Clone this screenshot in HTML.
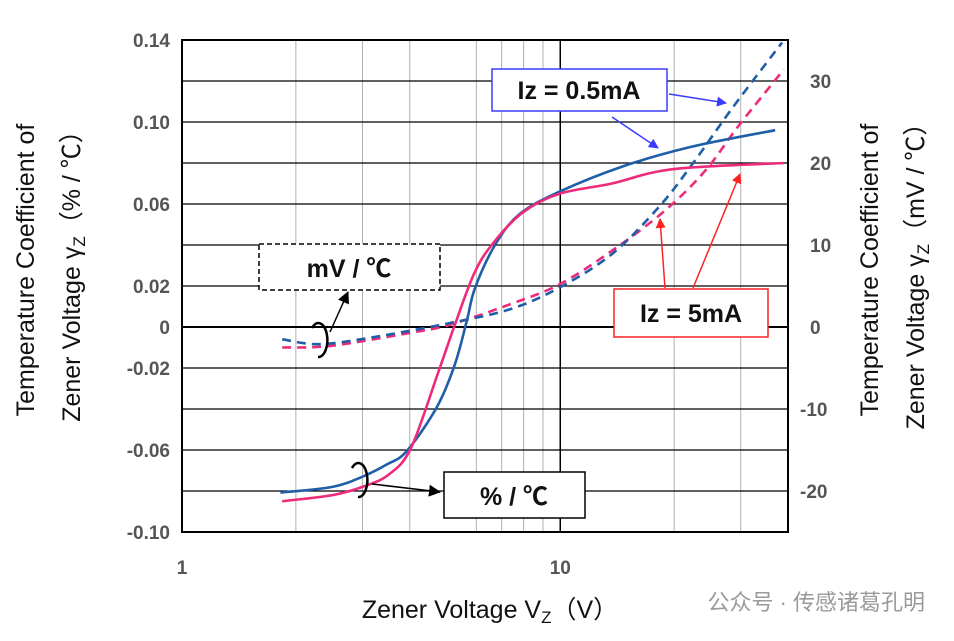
<!DOCTYPE html>
<html><head><meta charset="utf-8">
<style>
body{margin:0;background:#fff;}
svg{display:block;font-family:"Liberation Sans","Noto Sans CJK SC",sans-serif;}
.tk{font-size:19px;font-weight:bold;fill:#555;}
.ttl{font-size:25px;fill:#111;}
.box{font-size:25px;font-weight:bold;fill:#111;}
</style></head>
<body>
<svg id="chart" width="954" height="641" viewBox="0 0 954 641">
<g id="grid"></g>
<g id="series"></g>
<g id="axes"></g>

<g>
  <rect x="492" y="69" width="175" height="42" fill="#fff" stroke="#3b3bff" stroke-width="1.5"/>
  <text x="579" y="99" text-anchor="middle" class="box">Iz = 0.5mA</text>
  <rect x="614" y="289" width="154" height="48" fill="#fff" stroke="#ff2020" stroke-width="1.5"/>
  <text x="691" y="322" text-anchor="middle" class="box">Iz = 5mA</text>
  <rect x="259" y="244" width="181" height="46" fill="#fff" stroke="#000" stroke-width="1.5" stroke-dasharray="5,3"/>
  <text x="349" y="277" text-anchor="middle" class="box">mV / ℃</text>
  <rect x="444" y="472" width="141" height="46" fill="#fff" stroke="#000" stroke-width="1.5"/>
  <text x="514" y="505" text-anchor="middle" class="box">% / ℃</text>
  <defs>
    <marker id="ab" markerWidth="10" markerHeight="10" refX="9" refY="5" orient="auto" markerUnits="userSpaceOnUse"><path d="M0,0 L10,5 L0,10z" fill="#3b3bff"/></marker>
    <marker id="ar" markerWidth="10" markerHeight="10" refX="9" refY="5" orient="auto" markerUnits="userSpaceOnUse"><path d="M0,0 L10,5 L0,10z" fill="#ff2020"/></marker>
    <marker id="ak" markerWidth="12" markerHeight="12" refX="11" refY="6" orient="auto" markerUnits="userSpaceOnUse"><path d="M0,0 L12,6 L0,12z" fill="#000"/></marker>
  </defs>
  <line x1="669" y1="94" x2="726" y2="103" stroke="#3b3bff" stroke-width="1.5" marker-end="url(#ab)"/>
  <line x1="612" y1="117" x2="658" y2="148" stroke="#3b3bff" stroke-width="1.5" marker-end="url(#ab)"/>
  <line x1="665" y1="288" x2="660" y2="219" stroke="#ff2020" stroke-width="1.5" marker-end="url(#ar)"/>
  <line x1="693" y1="288" x2="740" y2="174" stroke="#ff2020" stroke-width="1.5" marker-end="url(#ar)"/>
  <path d="M312,328 A9,17 0 1 1 318,357" fill="none" stroke="#000" stroke-width="2.5"/>
  <line x1="330" y1="332" x2="348" y2="292" stroke="#000" stroke-width="1.5" marker-end="url(#ak)"/>
  <path d="M352,468 A9,17 0 1 1 358,497" fill="none" stroke="#000" stroke-width="2.5"/>
  <line x1="372" y1="484" x2="440" y2="492" stroke="#000" stroke-width="1.5" marker-end="url(#ak)"/>
</g>

<text transform="translate(34,270) rotate(-90)" text-anchor="middle" class="ttl">Temperature Coefficient of</text>
<text transform="translate(80,270) rotate(-90)" text-anchor="middle" class="ttl">Zener Voltage γ<tspan font-size="17" dy="5">Z</tspan><tspan dy="-5">（% / ℃）</tspan></text>
<text transform="translate(878,270) rotate(-90)" text-anchor="middle" class="ttl">Temperature Coefficient of</text>
<text transform="translate(924,270) rotate(-90)" text-anchor="middle" class="ttl">Zener Voltage γ<tspan font-size="17" dy="5">Z</tspan><tspan dy="-5">（mV / ℃）</tspan></text>
<text x="490" y="618" text-anchor="middle" class="ttl">Zener Voltage V<tspan font-size="17" dy="5">Z</tspan><tspan dy="-5">（V）</tspan></text>
<text x="925" y="610" text-anchor="end" font-size="22" fill="#9a9a9a">公众号 · 传感诸葛孔明</text>
</svg>
<script>
const xTicks=[1,10];
const xGridMinor=[2,3,4,6,7,8,9,20,30];
const yLeftTicks=[0.14,0.10,0.06,0.02,0,-0.02,-0.06,-0.10];
const yGridLines=[0.14,0.12,0.10,0.08,0.06,0.04,0.02,0,-0.02,-0.04,-0.06,-0.08,-0.10];
const yRightTicks=[30,20,10,0,-10,-20];
const pctV_05=[1.82,2.5,3.0,3.48,3.93,4.72,5.27,5.66,5.95,6.72,7.8,9.95,14.7,22.3,37];
const pct_05=[-0.0808,-0.078,-0.073,-0.067,-0.0605,-0.039,-0.018,0.003,0.019,0.040,0.055,0.066,0.0785,0.088,0.096];
const pctV_5=[1.84,2.5,3.0,3.52,4.03,4.77,5.27,5.95,6.72,7.98,9.95,13.7,19.8,39];
const pct_5=[-0.085,-0.082,-0.078,-0.072,-0.059,-0.0215,0.0013,0.027,0.042,0.056,0.065,0.070,0.077,0.080];
const mvV_05=[1.84,2.3,3.15,5.13,7.4,9.95,13.7,18.2,22.3,28.5,38.6];
const mv_05=[-1.5,-2.1,-1.3,0.5,2.2,4.8,8.9,14.6,19.8,26.7,34.7];
const mvV_5=[1.84,2.47,4.03,5.13,7.4,9.95,13.7,18.8,24.1,29.8,39];
const mv_5=[-2.5,-2.3,-0.7,0.3,2.8,5.2,9.3,14.1,19.0,24.7,31.4];

const L=182,R=788,T=40,B=532,XMAX=40;
const NS='http://www.w3.org/2000/svg';
function X(v){return L+(R-L)*Math.log10(v)/Math.log10(XMAX);}
function Y(p){return T+(0.14-p)/0.24*(B-T);}
function YR(m){return Y(m*0.004);}
function mk(tag,attrs,parent){const e=document.createElementNS(NS,tag);for(const k in attrs)e.setAttribute(k,attrs[k]);parent.appendChild(e);return e;}
const grid=document.getElementById('grid'),axes=document.getElementById('axes'),ser=document.getElementById('series');
xGridMinor.forEach(v=>{const e=mk('line',{x1:X(v),x2:X(v),y1:T,y2:B,stroke:'#b0b0b0','stroke-width':1},grid);

});
const e10=mk('line',{x1:X(10),x2:X(10),y1:T,y2:B,stroke:'#000','stroke-width':1.5},grid);


yGridLines.forEach(p=>{const e=mk('line',{x1:L,x2:R,y1:Y(p),y2:Y(p),stroke:'#000','stroke-width':p===0?2:1.3},grid);

});
const fr=mk('rect',{x:L,y:T,width:R-L,height:B-T,fill:'none',stroke:'#000','stroke-width':2},axes);


yLeftTicks.forEach(p=>{const t=mk('text',{x:170,y:Y(p)+7,'text-anchor':'end',class:'tk'},axes);t.textContent=p===0?'0':p.toFixed(2);

});
yRightTicks.forEach(m=>{const t=mk('text',{x:m<0?800:810,y:YR(m)+7,'text-anchor':'start',class:'tk'},axes);t.textContent=String(m);

});
xTicks.forEach(v=>{const t=mk('text',{x:X(v),y:574,'text-anchor':'middle',class:'tk'},axes);t.textContent=String(v);

});
function line(xs,ys,fy,color,dash,name){
  const P=xs.map((v,i)=>[X(v),fy(ys[i])]);
  let d='M'+P[0][0].toFixed(1)+','+P[0][1].toFixed(1);
  for(let i=0;i<P.length-1;i++){
    const p0=P[Math.max(0,i-1)],p1=P[i],p2=P[i+1],p3=P[Math.min(P.length-1,i+2)];
    const c1=[p1[0]+(p2[0]-p0[0])/6,p1[1]+(p2[1]-p0[1])/6];
    const c2=[p2[0]-(p3[0]-p1[0])/6,p2[1]-(p3[1]-p1[1])/6];
    d+=' C'+c1[0].toFixed(1)+','+c1[1].toFixed(1)+' '+c2[0].toFixed(1)+','+c2[1].toFixed(1)+' '+p2[0].toFixed(1)+','+p2[1].toFixed(1);
  }
  const p=mk('path',{d:d,fill:'none',stroke:color,'stroke-width':2.6,'stroke-linejoin':'round'},ser);
  if(dash)p.setAttribute('stroke-dasharray','9,6');
  
  
}
line(mvV_5,mv_5,YR,'#ee2a7b',true,'series-5ma-mv');
line(mvV_05,mv_05,YR,'#1f5fa8',true,'series-0-5ma-mv');
line(pctV_05,pct_05,Y,'#1f5fa8',false,'series-0-5ma-pct');
line(pctV_5,pct_5,Y,'#ee2a7b',false,'series-5ma-pct');
</script>
</body></html>
